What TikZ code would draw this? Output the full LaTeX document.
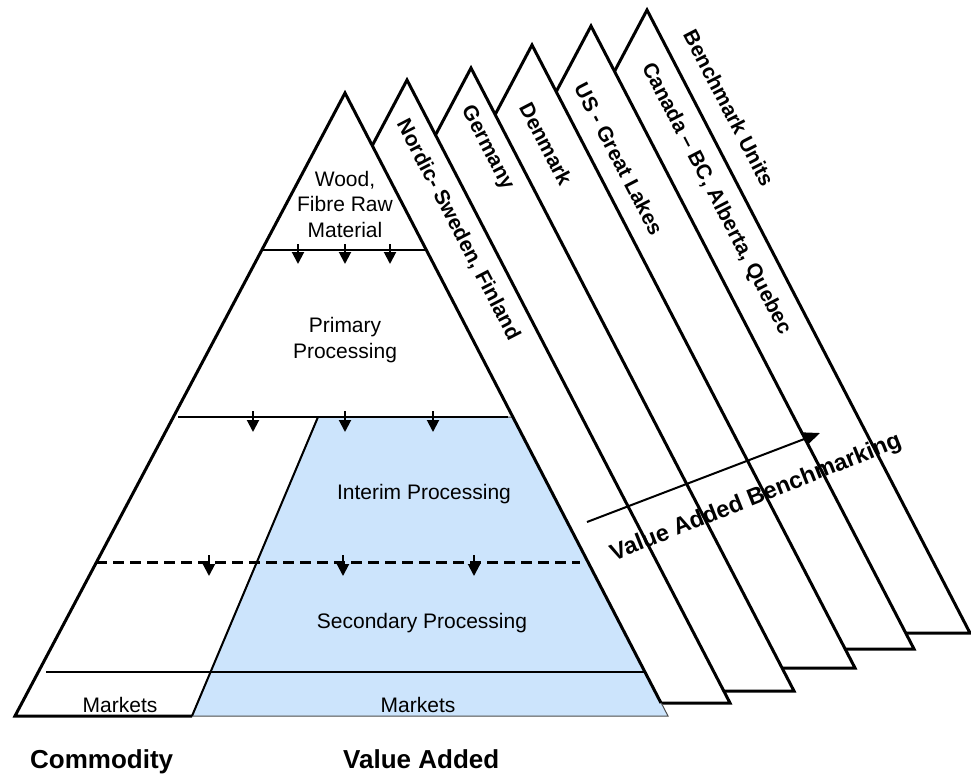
\documentclass[tikz,border=0pt]{standalone}
\usepackage{fontspec}
\setmainfont{Liberation Sans}
\usetikzlibrary{arrows.meta, calc}
\definecolor{valueBlue}{RGB}{204,228,252}
\tikzset{
    card/.style = {fill=white, draw=black, line width=3pt, line join=miter},
    edgeLine/.style = {line width=3pt},
    levelLine/.style = {line width=2pt},
    dropArrow/.style = {line width=2pt, -{Triangle[width=12pt,length=12pt]}},
    plainLabel/.style = {font=\fontsize{21}{25.5}\selectfont, align=center, inner sep=0pt},
    unitLabel/.style = {font=\bfseries\fontsize{21}{25}\selectfont, inner sep=0pt, rotate=-62.6},
    footLabel/.style = {font=\bfseries\fontsize{26}{30}\selectfont, inner sep=0pt, anchor=base west}
}

\begin{document}
\begin{tikzpicture}[x=1pt, y=-1pt]
    \useasboundingbox (0,0) rectangle (971,778);

    \coordinate (Top) at (345,93);
    \coordinate (BL) at (15,716);
    \coordinate (BR) at (668,716);

    % benchmark cards, back to front
    \foreach \dx/\dy in {302/-83, 246/-67, 187/-48, 126/-25, 62/-13}{
        \filldraw[card] ($(Top)+(\dx,\dy)$) -- ($(BR)+(\dx,\dy)$) -- ($(BL)+(\dx,\dy)$) -- cycle;
    }

    % pyramid
    \fill[white] (Top) -- (BR) -- (BL) -- cycle;
    \filldraw[fill=valueBlue, draw=black!70, line width=1pt] (318,417) -- (513,417) -- (BR) -- (192,716) -- cycle;
    \draw[edgeLine] (192,716) -- (BL) -- (Top) -- (661,703);
    \draw[levelLine] (318,417) -- (192,716);

    \draw[levelLine] (262,250) -- (426,250);
    \draw[levelLine] (178,417) -- (508,417);
    \draw[edgeLine, dash pattern=on 11pt off 6pt] (96,562) -- (580,562);
    \draw[levelLine] (46,672) -- (645,672);

    \foreach \x in {298,345,390}{
        \draw[dropArrow] (\x,244) -- (\x,264);
    }
    \foreach \x in {253,345,433}{
        \draw[dropArrow] (\x,411) -- (\x,432);
    }
    \foreach \x in {209,343,474}{
        \draw[dropArrow] (\x,555) -- (\x,576);
    }

    \node[plainLabel] (wood) at (345,204) {Wood,\\Fibre Raw\\Material};
    \node[plainLabel] (primary) at (345,340) {Primary\\Processing};
    \node[plainLabel, anchor=base] (interim) at (424,499) {Interim Processing};
    \node[plainLabel, anchor=base] (secondary) at (422,628) {Secondary Processing};
    \node[plainLabel, anchor=base] (marketsC) at (120,712) {Markets};
    \node[plainLabel, anchor=base] (marketsV) at (418,712) {Markets};

    \node[unitLabel] (nordic) at (458,230) {Nordic- Sweden, Finland};
    \node[unitLabel] (germany) at (487,148) {Germany};
    \node[unitLabel] (denmark) at (546,144) {Denmark};
    \node[unitLabel] (us) at (619,159) {US - Great Lakes};
    \node[unitLabel] (canada) at (716,199) {Canada -- BC, Alberta, Quebec};
    \node[unitLabel] (units) at (729,108) {Benchmark Units};

    \coordinate (benchStart) at (587,522);
    \coordinate (benchEnd) at (820,433);
    \draw[line width=2pt, -{Triangle[width=13pt,length=16pt]}] (benchStart) -- (benchEnd);
    \node[unitLabel, rotate=84.3, font=\bfseries\fontsize{23.5}{27}\selectfont] (bench) at (756,498) {Value Added Benchmarking};

    \node[footLabel] (commodity) at (30,768) {Commodity};
    \node[footLabel] (valueAdded) at (343,768) {Value Added};
\end{tikzpicture}
\end{document}
